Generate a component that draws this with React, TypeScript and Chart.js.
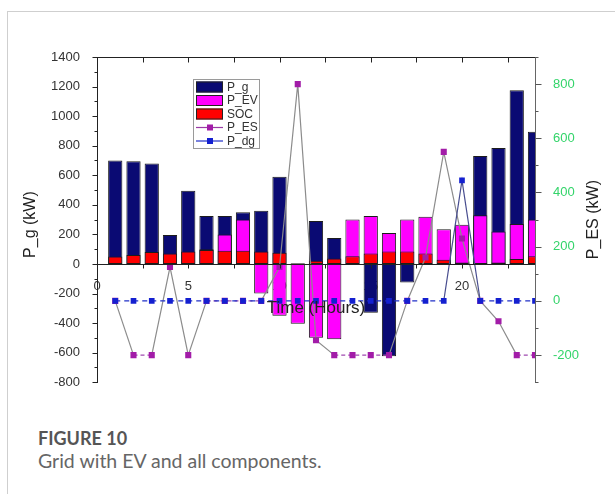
import React, { useEffect, useRef } from "react";
import { Chart, registerables } from "chart.js";

Chart.register(...registerables);

// ---- data ----
const hours = [1, 2, 3, 4, 5, 6, 7, 8, 9, 10, 11, 12, 13, 14, 15, 16, 17, 18, 19, 20, 21, 22, 23, 24];
const pG = [700, 695, 680, 195, 495, 325, 325, 350, 360, 590, 0, 290, 175, 0, -330, -625, -125, 0, 0, 0, 730, 785, 1175, 895];
const pEV = [0, 0, 0, 0, 0, 100, 200, 300, -200, -350, -405, -500, -510, 300, 325, 210, 300, 320, 235, 265, 330, 220, 270, 300];
const soc = [50, 60, 80, 70, 85, 95, 90, 90, 85, 75, 5, 22, 36, 52, 70, 85, 85, 70, 29, 10, 5, 10, 34, 52];
const pES = [0, -200, -200, 125, -200, 0, 0, 0, 0, 125, 800, -145, -200, -200, -200, -200, 0, 160, 550, 230, 0, -75, -200, -200];
const pDG = [0, 0, 0, 0, 0, 0, 0, 0, 0, 0, 0, 0, 0, 0, 0, 0, 0, 0, 0, 445, 0, 0, 0, 0];

const seriesNames = ["P_g", "P_EV", "SOC", "P_ES", "P_dg"];
const xTickValues = [0, 5, 10, 15, 20];
const leftTickValues = [-800, -600, -400, -200, 0, 200, 400, 600, 800, 1000, 1200, 1400];
const rightTickValues = [-200, 0, 200, 400, 600, 800];

const xTitle = "Time (Hours)";
const leftTitle = "P_g (kW)";
const rightTitle = "P_ES (kW)";
const figLabel = "FIGURE 10";
const figCaption = "Grid with EV and all components.";

// ---- styles ----
const C_PG = "#0a0a73";
const C_EV = "#ff00ff";
const C_SOC = "#ff0000";
const C_ES_PT = "#a21ca8";
const C_ES_LINE = "#8c8c8c";
const C_DG_PT = "#1420d0";
const C_DG_LINE = "#4a4f90";
const FONT = "'Liberation Sans', Arial, sans-serif";

const pts = (ys: number[]) => hours.map((h, i) => ({ x: h, y: ys[i] }));
const plain = (v: any) => String(v);

const decorPlugin = {
  id: "decor",
  afterDatasetsDraw(chart: any) {
    const { ctx, chartArea: a, scales } = chart;
    const x = scales.x;
    const y = scales.y;
    const y1 = scales.y1;
    const ln = (x0: number, yA: number, x1: number, yB: number) => {
      ctx.beginPath();
      ctx.moveTo(x0, yA);
      ctx.lineTo(x1, yB);
      ctx.stroke();
    };
    ctx.save();
    ctx.lineWidth = 1;
    ctx.strokeStyle = "#222";
    const y0 = Math.round(y.getPixelForValue(0)) + 0.5;
    ln(a.left, y0, a.right, y0);
    const top = Math.round(a.top) + 0.5;
    ln(a.left, top, a.right, top);
    for (let v = 0; v <= 24; v += 2.5) {
      const px = Math.round(x.getPixelForValue(v)) + 0.5;
      ln(px, top, px, top + 5);
      ln(px, y0, px, y0 + 4);
    }
    const lx = Math.round(a.left) + 0.5;
    for (let v = -800; v <= 1400; v += 100) {
      const py = Math.round(y.getPixelForValue(v)) + 0.5;
      const len = v % 200 === 0 ? 5 : 3;
      ln(lx - len, py, lx, py);
    }
    ctx.strokeStyle = "#555";
    const rx = Math.round(a.right) + 0.5;
    for (let v = -300; v <= 900; v += 100) {
      const py = Math.round(y1.getPixelForValue(v)) + 0.5;
      const len = v % 200 === 0 ? 6 : 3;
      ln(rx, py, rx + len, py);
    }

    // axis titles
    ctx.fillStyle = "#222";
    ctx.font = `17px ${FONT}`;
    ctx.textAlign = "center";
    ctx.textBaseline = "middle";
    ctx.fillText(xTitle, (a.left + a.right) / 2, y0 + 44);
    ctx.font = `16px ${FONT}`;
    ctx.save();
    ctx.translate(31, (a.top + a.bottom) / 2 + 5);
    ctx.rotate(-Math.PI / 2);
    ctx.fillText(leftTitle, 0, 0);
    ctx.restore();
    ctx.save();
    ctx.translate(594, (a.top + a.bottom) / 2);
    ctx.rotate(-Math.PI / 2);
    ctx.fillText(rightTitle, 0, 0);
    ctx.restore();

    // legend
    const bx = a.left + 96;
    const by = a.top + 22;
    const bw = 66;
    const bh = 69;
    ctx.fillStyle = "#fff";
    ctx.fillRect(bx, by, bw, bh);
    ctx.strokeStyle = "#9a9a9a";
    ctx.strokeRect(bx + 0.5, by + 0.5, bw, bh);
    const ds = chart.data.datasets;
    ctx.font = `12px ${FONT}`;
    ctx.textAlign = "left";
    for (let i = 0; i < seriesNames.length; i++) {
      const cy = by + 8 + i * 13.5;
      const d = ds[i];
      if (d.type === "bar") {
        ctx.fillStyle = d.backgroundColor;
        ctx.fillRect(bx + 3, cy - 5.5, 27, 11);
        ctx.strokeStyle = "#222";
        ctx.strokeRect(bx + 3.5, cy - 5, 26, 10);
      } else {
        ctx.strokeStyle = d.legendLine;
        ctx.lineWidth = 1.2;
        ln(bx + 3, cy, bx + 30, cy);
        ctx.fillStyle = d.pointBackgroundColor;
        ctx.fillRect(bx + 14, cy - 3, 6, 6);
        ctx.lineWidth = 1;
      }
      ctx.fillStyle = "#333";
      ctx.fillText(seriesNames[i], bx + 34, cy + 0.5);
    }
    ctx.restore();
  },
};

const flat = (c: any) => c.p0.parsed.y === c.p1.parsed.y;

export default function App() {
  const ref = useRef<HTMLCanvasElement | null>(null);
  useEffect(() => {
    if (!ref.current) return;
    const barCommon = {
      type: "bar",
      grouped: false,
      barPercentage: 0.78,
      categoryPercentage: 1,
      borderColor: "#1c1c1c",
      borderWidth: 1,
      borderSkipped: false,
      yAxisID: "y",
      clip: 0,
    };
    const chart = new Chart(ref.current, {
      type: "bar",
      data: {
        datasets: [
          { ...barCommon, label: seriesNames[0], data: pts(pG), backgroundColor: C_PG, order: 4 },
          { ...barCommon, label: seriesNames[1], data: pts(pEV), backgroundColor: C_EV, order: 3 },
          { ...barCommon, label: seriesNames[2], data: pts(soc), backgroundColor: C_SOC, order: 2 },
          {
            type: "line",
            label: seriesNames[3],
            data: pts(pES),
            yAxisID: "y1",
            borderColor: C_ES_LINE,
            legendLine: "#9a3aa6",
            borderWidth: 1.2,
            pointStyle: "rect",
            pointRadius: 4.3,
            pointBackgroundColor: C_ES_PT,
            pointBorderColor: C_ES_PT,
            pointBorderWidth: 0,
            order: 1,
            clip: 0,
            segment: {
              borderColor: (c: any) => (flat(c) ? "#a04ab0" : C_ES_LINE),
              borderDash: (c: any) => (flat(c) ? [4, 3] : undefined),
            },
          },
          {
            type: "line",
            label: seriesNames[4],
            data: pts(pDG),
            yAxisID: "y1",
            borderColor: C_DG_LINE,
            legendLine: "#2030c8",
            borderWidth: 1.2,
            pointStyle: "rect",
            pointRadius: 4,
            pointBackgroundColor: C_DG_PT,
            pointBorderColor: C_DG_PT,
            pointBorderWidth: 0,
            order: 0,
            clip: 0,
            segment: {
              borderColor: (c: any) => (flat(c) ? "#2030c8" : C_DG_LINE),
              borderDash: (c: any) => (flat(c) ? [5, 4] : undefined),
            },
          },
        ] as any,
      },
      options: {
        animation: false,
        responsive: false,
        maintainAspectRatio: false,
        layout: { padding: { left: 0, right: 0, top: 57, bottom: 15 } },
        plugins: { legend: { display: false }, tooltip: { enabled: false } },
        scales: {
          x: {
            type: "linear",
            min: 0,
            max: 24,
            offset: false,
            position: { y: 0 } as any,
            grid: { display: false },
            border: { display: false },
            afterBuildTicks: (s: any) => {
              s.ticks = xTickValues.map((v) => ({ value: v }));
            },
            ticks: {
              autoSkip: false,
              maxRotation: 0,
              padding: 7,
              color: "#333",
              callback: plain,
              font: { family: FONT, size: 13 },
            },
          },
          y: {
            type: "linear",
            position: "left",
            min: -800,
            max: 1400,
            grid: { display: false },
            border: { display: true, color: "#222", width: 1 },
            afterBuildTicks: (s: any) => {
              s.ticks = leftTickValues.map((v) => ({ value: v }));
            },
            afterFit: (s: any) => {
              s.width = 97;
            },
            ticks: {
              padding: 9,
              color: "#333",
              callback: plain,
              font: { family: FONT, size: 13 },
            },
          },
          y1: {
            type: "linear",
            position: "right",
            min: -300,
            max: 900,
            grid: { display: false },
            border: { display: true, color: "#666", width: 1 },
            afterBuildTicks: (s: any) => {
              s.ticks = rightTickValues.map((v) => ({ value: v }));
            },
            afterFit: (s: any) => {
              s.width = 80;
            },
            ticks: {
              padding: 10,
              color: "#33d46a",
              callback: plain,
              font: { family: FONT, size: 13 },
            },
          },
        },
      } as any,
      plugins: [decorPlugin],
    });
    return () => chart.destroy();
  }, []);

  return (
    <div
      style={{
        position: "fixed",
        left: 0,
        top: 0,
        width: 615,
        height: 494,
        background: "#fff",
        overflow: "hidden",
      }}
    >
      <div
        style={{
          position: "absolute",
          left: 7,
          top: 11,
          width: 620,
          height: 500,
          borderLeft: "1px solid #cfcfcf",
          borderTop: "1px solid #cfcfcf",
        }}
      />
      <canvas
        ref={ref}
        width={615}
        height={400}
        style={{ position: "absolute", left: 0, top: 0, width: 615, height: 400 }}
      />
      <div
        style={{
          position: "absolute",
          left: 38,
          top: 427,
          fontFamily: "Lato, 'Open Sans', sans-serif",
          fontWeight: 700,
          fontSize: 18,
          color: "#555",
          lineHeight: "22px",
        }}
      >
        {figLabel}
      </div>
      <div
        style={{
          position: "absolute",
          left: 38,
          top: 449,
          fontFamily: "Lato, 'Open Sans', sans-serif",
          fontSize: 19.5,
          color: "#666",
          lineHeight: "24px",
        }}
      >
        {figCaption}
      </div>
    </div>
  );
}
